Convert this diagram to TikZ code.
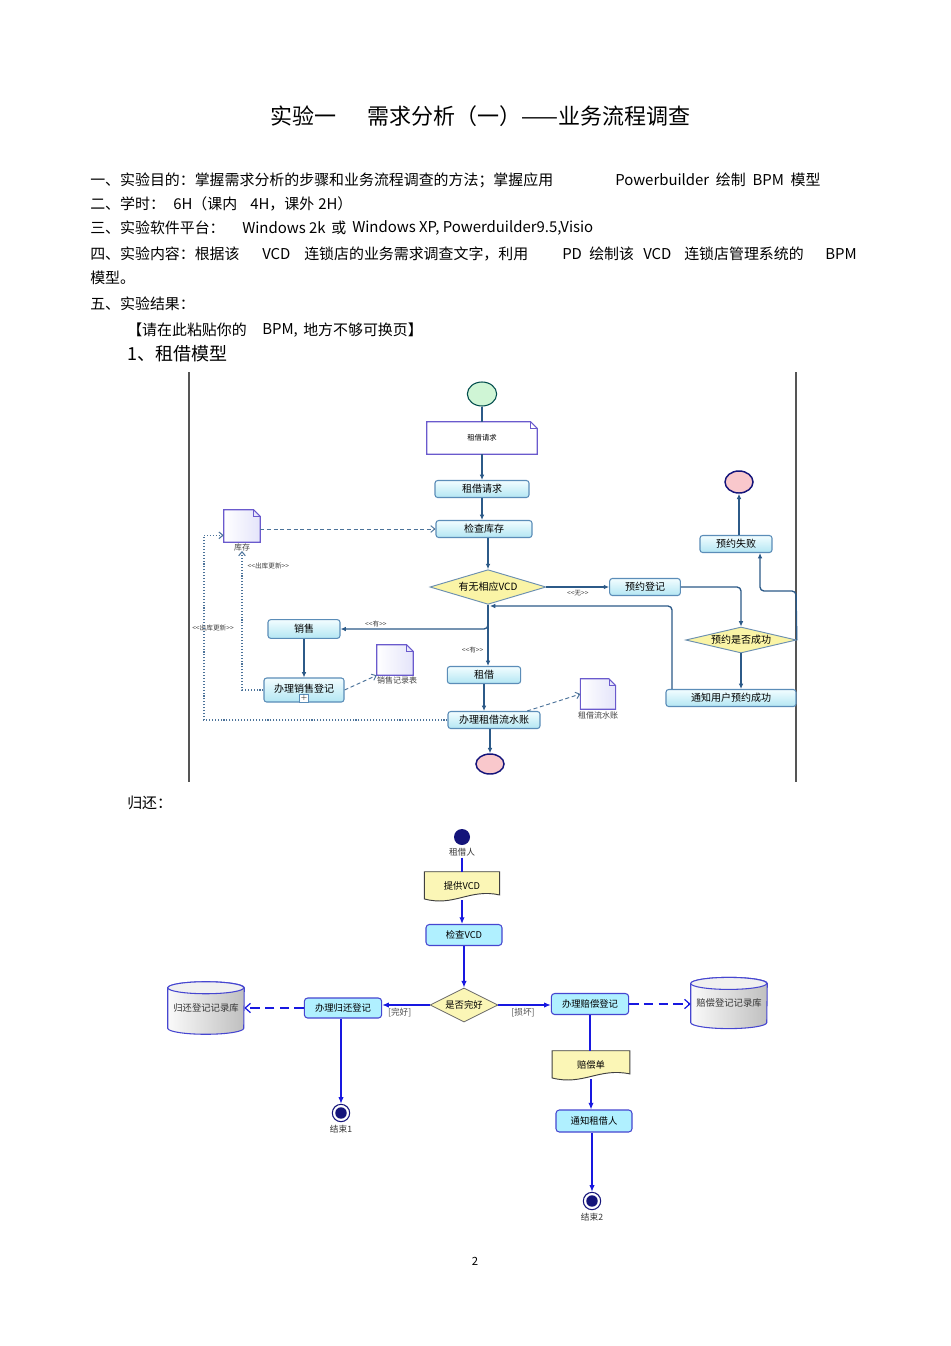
\documentclass[tikz,border=0pt]{standalone}
\usepackage{fontspec}
\newfontfamily\cjk{Noto Sans CJK SC}
\usetikzlibrary{shapes.geometric,arrows.meta,calc,backgrounds}
\definecolor{lineA}{HTML}{2C5A88}
\definecolor{boxB}{HTML}{5B8DB8}
\definecolor{boxTop}{HTML}{F2FDFF}
\definecolor{boxBot}{HTML}{B3E6F3}
\definecolor{diaFill}{HTML}{FAF4A6}
\definecolor{diaDraw}{HTML}{6B8FB0}
\definecolor{docDraw}{HTML}{6A5ACD}
\definecolor{docFill}{HTML}{E4E4FA}
\definecolor{startG}{HTML}{CFF5D5}
\definecolor{endP}{HTML}{F9C8CC}
\definecolor{navy}{HTML}{14147A}
\definecolor{blueL}{HTML}{1818E0}
\definecolor{boxD}{HTML}{4646D0}
\definecolor{cyanB}{HTML}{B0F0FF}
\definecolor{yel}{HTML}{FBF6B6}
\definecolor{frameC}{HTML}{555555}
\newcommand\bodyf{\cjk\fontsize{11.2}{13}\selectfont}
\newcommand\folddoc[6]{%
  \node[inner sep=0pt, minimum width=#3, minimum height=#4, font=\cjk\fontsize{5.5}{6}\selectfont] (#1) at (#2) {#5};
  \begin{pgfonlayer}{background}
  \path[draw=docDraw, line width=0.8pt, #6] (#1.north west) -- ([xshift=-5pt]#1.north east) -- ([yshift=-5pt]#1.north east) -- (#1.south east) -- (#1.south west) -- cycle;
  \draw[docDraw, line width=0.5pt] ([xshift=-5pt]#1.north east) |- ([yshift=-5pt]#1.north east);
  \end{pgfonlayer}}
\newcommand\wavedoc[5]{%
  \node[inner sep=0pt, minimum width=#3pt, minimum height=#4pt, font=\cjk\fontsize{7}{8}\selectfont] (#1) at (#2) {#5};
  \begin{pgfonlayer}{background}
  \path[draw=black!75, line width=0.7pt, fill=yel] (#1.north west) -- (#1.north east) -- ([yshift=4pt]#1.south east) .. controls ([xshift=-0.4*#3pt, yshift=9pt]#1.south east) and ([xshift=0.4*#3pt, yshift=-5pt]#1.south west) .. ([yshift=1pt]#1.south west) -- cycle;
  \end{pgfonlayer}}
\newcommand\cylnode[5]{%
  \node[inner sep=0pt, minimum width=2*#3, minimum height=#4, font=\cjk\fontsize{7}{8}\selectfont, text=black!80] (#1) at (#2) {\raisebox{-2pt}{#5}};
  \begin{pgfonlayer}{background}
  \path[draw=boxD, line width=0.8pt, left color=gray!4, right color=gray!50] let \p1=(#1.north west), \p2=(#1.south east) in
    ({\x1},{\y1-4.5pt}) -- ({\x1},{\y2+4.5pt}) arc[start angle=180,end angle=360,x radius=#3,y radius=4.5pt] -- ({\x2},{\y1-4.5pt}) arc[start angle=0,end angle=180,x radius=#3,y radius=4.5pt] -- cycle;
  \path[draw=boxD, line width=0.8pt, fill=gray!12] let \p1=(#1.north west) in ({\x1+#3},{\y1-4.5pt}) ellipse[x radius=#3, y radius=4.5pt];
  \end{pgfonlayer}}
\tikzset{
  txt/.style={anchor=west, inner sep=0pt, font=\bodyf},
  box1/.style={draw=boxB, line width=0.8pt, rounded corners=2pt, top color=boxTop, bottom color=boxBot, inner sep=0pt, font=\cjk\fontsize{7.5}{8}\selectfont},
  dia1/.style={diamond, draw=diaDraw, line width=0.7pt, fill=diaFill, inner sep=0pt, font=\cjk\fontsize{7.5}{8}\selectfont},
  arr1/.style={draw=lineA, line width=1pt, -{Latex[length=4pt,width=3.5pt]}},
  ln1/.style={draw=lineA, line width=1pt},
  dsh1/.style={draw=lineA!85, line width=0.7pt, dash pattern=on 3pt off 2pt, -{Straight Barb[length=3pt,width=5pt]}},
  dot1/.style={draw=lineA!85, line width=0.8pt, dash pattern=on 0.8pt off 1.4pt, -{Straight Barb[length=3pt,width=5pt]}},
  lbl1/.style={font=\cjk\fontsize{5}{5}\selectfont, inner sep=1pt, text=black!75},
  dlbl/.style={font=\cjk\fontsize{6}{6}\selectfont, inner sep=0pt, text=black!75},
  box2/.style={draw=boxD, line width=0.8pt, rounded corners=2.5pt, fill=cyanB, inner sep=0pt, font=\cjk\fontsize{7}{8}\selectfont},
  dia2/.style={diamond, draw=black!60, line width=0.6pt, fill=yel, inner sep=0pt, font=\cjk\fontsize{7}{8}\selectfont},
  arr2/.style={draw=blueL, line width=0.9pt, -{Latex[length=5pt,width=4pt]}},
  ln2/.style={draw=blueL, line width=0.9pt},
  dsh2/.style={draw=blueL, line width=0.9pt, dash pattern=on 7pt off 4pt, -{Straight Barb[length=4pt,width=7pt]}},
  lbl2/.style={font=\cjk\fontsize{6.5}{7}\selectfont, text=black!70, inner sep=1pt},
}
\begin{document}
\begin{tikzpicture}[x=0.75pt,y=-0.75pt]
\useasboundingbox (0,0) rectangle (950,1346);
\begin{pgfonlayer}{background}
\fill[white] (0,0) rectangle (950,1346);
\end{pgfonlayer}

% ---------- title and text ----------
\node[anchor=west, inner sep=0pt, font=\cjk\fontsize{16.5}{18}\selectfont] (t1) at (270,116) {实验一};
\node[anchor=west, inner sep=0pt, font=\cjk\fontsize{16.5}{18}\selectfont] (t2) at (367,116) {需求分析（一）——业务流程调查};

\node[txt] (l1a) at (90,180) {一、实验目的：掌握需求分析的步骤和业务流程调查的方法；掌握应用};
\node[txt] (l1b) at (615,180) {Powerbuilder\ \ 绘制\ \ BPM\ \ 模型};
\node[txt] (l2a) at (90,204) {二、学时：};
\node[txt] (l2b) at (173,204) {6H（课内};
\node[txt] (l2c) at (250,204) {4H，课外};
\node[txt] (l2d) at (318,204) {2H）};
\node[txt] (l3a) at (90,228) {三、实验软件平台：};
\node[txt] (l3b) at (242,228) {Windows 2k};
\node[txt] (l3c) at (331,228) {或};
\node[txt] (l3d) at (352,228) {Windows XP, Powerduilder9.5,Visio};
\node[txt] (l4a) at (90,254) {四、实验内容：根据该};
\node[txt] (l4b) at (262,254) {VCD};
\node[txt] (l4c) at (304,254) {连锁店的业务需求调查文字，利用};
\node[txt] (l4d) at (562,254) {PD};
\node[txt] (l4e) at (589,254) {绘制该};
\node[txt] (l4f) at (643,254) {VCD};
\node[txt] (l4g) at (684,254) {连锁店管理系统的};
\node[txt] (l4h) at (825,254) {BPM};
\node[txt] (l5) at (90,278) {模型。};
\node[txt] (l6) at (90,304) {五、实验结果：};
\node[txt] (l7a) at (127,330) {【请在此粘贴你的};
\node[txt] (l7b) at (262,330) {BPM,};
\node[txt] (l7c) at (303,330) {地方不够可换页】};
\node[txt, font=\cjk\fontsize{13.5}{15}\selectfont] (l8) at (127,354) {1、租借模型};
\node[txt] (l9) at (127,803) {归还：};
\node[inner sep=0pt, font=\cjk\fontsize{8.5}{9}\selectfont] (pg) at (475,1261) {2};

% ---------- diagram 1 ----------
\draw[frameC, line width=1.1pt] (189,372) -- (189,782);
\draw[frameC, line width=1.1pt] (796,372) -- (796,782);

\node[ellipse, draw=teal!60!black, fill=startG, line width=0.8pt, minimum width=22pt, minimum height=18pt, inner sep=0pt] (s1) at (482,394) {};
\folddoc{d1}{482,438}{82.5pt}{24pt}{租借请求}{fill=white}
\node[box1, minimum width=70.5pt, minimum height=12.75pt] (b1) at (482,489) {租借请求};
\node[box1, minimum width=72pt, minimum height=12.75pt] (b2) at (484,529) {检查库存};
\node[dia1, aspect=3.3, minimum width=87pt, minimum height=26pt] (q1) at (488,587) {有无相应VCD};
\node[box1, minimum width=53pt, minimum height=12.75pt] (r1) at (645,587) {预约登记};
\node[dia1, aspect=4.3, minimum width=83pt, minimum height=19.5pt] (q2) at (741,640) {预约是否成功};
\node[box1, minimum width=97.5pt, minimum height=12.75pt] (r2) at (731,698) {通知用户预约成功};
\node[box1, minimum width=54pt, minimum height=12.75pt] (f1) at (736,544) {预约失败};
\node[ellipse, draw=navy, fill=endP, line width=1.1pt, minimum width=21pt, minimum height=16.5pt, inner sep=0pt] (e1) at (739,482) {};
\node[box1, minimum width=54pt, minimum height=14pt] (sa) at (304,629) {销售};
\node[box1, minimum width=60pt, minimum height=18pt] (sd) at (304,690) {\raisebox{3pt}{办理销售登记}};
\node[draw=boxB, line width=0.6pt, fill=white, minimum width=7pt, minimum height=6pt, inner sep=0pt, font=\fontsize{5}{5}\selectfont] (sdp) at (304,698) {+};
\node[box1, minimum width=55pt, minimum height=12.75pt] (zj) at (484,675) {租借};
\node[box1, minimum width=69pt, minimum height=12.75pt] (zd) at (494,720) {办理租借流水账};
\node[ellipse, draw=navy, fill=endP, line width=1.1pt, minimum width=21pt, minimum height=15pt, inner sep=0pt] (e2) at (490,764) {};
\folddoc{dk}{242,526}{27pt}{24pt}{}{left color=white, right color=docFill}
\node[dlbl] (dkl) at (242,547) {库存};
\folddoc{dsr}{395,660}{27pt}{22.5pt}{}{left color=white, right color=docFill}
\node[dlbl] (dsrl) at (397,680) {销售记录表};
\folddoc{dzl}{598,694}{26pt}{22.5pt}{}{left color=white, right color=docFill}
\node[dlbl] (dzll) at (598,715) {租借流水账};

\draw[ln1] (s1) -- (d1);
\draw[arr1] (d1) -- (b1);
\draw[arr1] (b1) -- (b1 |- b2.north);
\draw[arr1] (b2.south -| q1.north) -- (q1.north);
\draw[arr1] (q1.east) -- (r1.west) node[lbl1, pos=0.5, below=1pt] {<{}<无>{}>};
\draw[arr1, rounded corners=3pt] (r1.east) -| (q2.north);
\draw[arr1] (q2.south) -- (q2.south |- r2.north);
\coordinate (c1) at (796,591);
\draw[arr1, rounded corners=3pt] (q2.east) -- (c1) -| ([xshift=18pt]f1.south);
\draw[arr1] (f1.north -| e1) -- (e1.south);
\coordinate (c2) at (490,606);
\draw[arr1, rounded corners=3pt] ([xshift=-44.25pt]r2.north) |- (c2);
\draw[arr1, rounded corners=3pt] (q1.south) |- (sa.east) node[lbl1, pos=0.88, above] {<{}<有>{}>};
\draw[arr1] (q1.south) -- (q1.south |- zj.north) node[lbl1, pos=0.74, left=2pt] {<{}<有>{}>};
\draw[arr1] (sa) -- (sd);
\draw[arr1] (zj.south) -- (zj.south |- zd.north);
\draw[arr1] (zd.south -| e2) -- (e2.north);
\draw[dsh1] (sd.east) -- (dsr.south west);
\draw[dsh1] ([xshift=-10pt]zd.north east) -- (dzl.west);
\draw[dsh1] (dk.east |- b2) -- (b2.west);
\draw[dot1] (sd.west) -| (dkl.south);
\node[lbl1, anchor=west] (u1) at (246,566) {<{}<出库更新>{}>};
\coordinate (c3) at (204,720);
\draw[dot1] (zd.west) -- (c3) |- ([yshift=-7pt]dk.west);
\node[lbl1] (u2) at (213,628) {<{}<出库更新>{}>};

% ---------- diagram 2 ----------
\node[circle, fill=navy, minimum size=12pt, inner sep=0pt] (s2) at (462,837) {};
\node[lbl2, text=black!80] (s2l) at (462,852) {租借人};
\wavedoc{tg}{462,886}{56}{21}{提供VCD}
\node[box2, minimum width=57pt, minimum height=15.75pt] (jc) at (464,935) {检查VCD};
\node[dia2, aspect=2, minimum width=51pt, minimum height=25.5pt] (q3) at (464,1005) {是否完好};
\node[box2, minimum width=58pt, minimum height=15pt] (gh) at (343,1008) {办理归还登记};
\node[box2, minimum width=58pt, minimum height=15.75pt] (pc) at (590,1004) {办理赔偿登记};
\cylnode{cy1}{206,1008}{28.5pt}{39pt}{归还登记记录库}
\cylnode{cy2}{729,1003}{28.5pt}{38pt}{赔偿登记记录库}
\wavedoc{pcd}{591,1065}{58}{21}{赔偿单}
\node[box2, minimum width=57pt, minimum height=16.5pt] (tz) at (594,1121) {通知租借人};
\node[circle, draw=navy, fill=white, line width=0.8pt, minimum size=13pt, inner sep=0pt] (end1) at (341,1113) {};
\fill[navy] (end1.center) circle[radius=4.3pt];
\node[lbl2, text=black!80] (end1l) at (341,1129) {结束1};
\node[circle, draw=navy, fill=white, line width=0.8pt, minimum size=13pt, inner sep=0pt] (end2) at (592,1201) {};
\fill[navy] (end2.center) circle[radius=4.3pt];
\node[lbl2, text=black!80] (end2l) at (592,1217) {结束2};

\draw[ln2] (s2l.south) -- (tg.north);
\draw[arr2] (tg.south) -- (tg.south |- jc.north);
\draw[arr2] (jc) -- (q3);
\draw[arr2] (q3.west) -- (q3.west -| gh.east) node[lbl2, pos=0.63, below=1pt] {[完好]};
\draw[arr2] (q3.east) -- (q3.east -| pc.west) node[lbl2, pos=0.47, below=1pt] {[损坏]};
\draw[dsh2] (gh.west) -- (gh.west -| cy1.east);
\draw[dsh2] (pc.east) -- (pc.east -| cy2.west);
\draw[arr2] (gh.south -| end1) -- (end1.north);
\draw[ln2] (pc.south) -- (pc.south |- pcd.north);
\draw[arr2] (pcd.south) -- (pcd.south |- tz.north);
\draw[arr2] (tz.south -| end2) -- (end2.north);
\end{tikzpicture}
\end{document}
